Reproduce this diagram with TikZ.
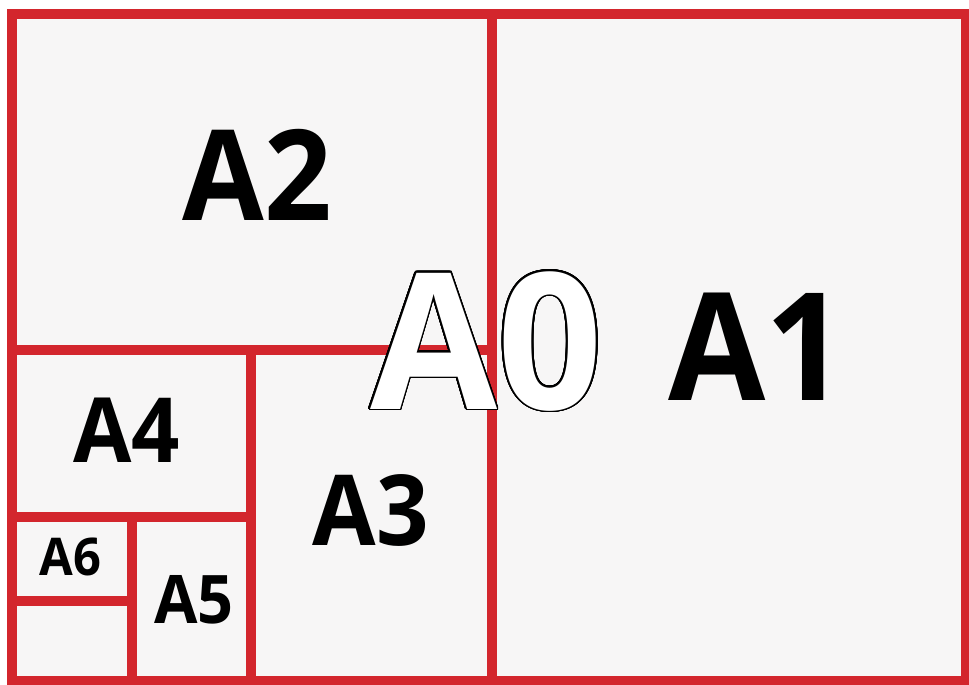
\documentclass[tikz,border=0pt]{standalone}
\usepackage{fontspec}
\setmainfont{Open Sans}
\usepackage{contour}
\contourlength{1.7bp}
\contournumber{32}
\definecolor{pred}{RGB}{211,38,45}
\definecolor{pbg}{RGB}{247,246,246}
\begin{document}
\begin{tikzpicture}[x=1bp,y=-1bp,
  redline/.style={draw=pred,line width=9.5bp},
  lbl/.style={inner sep=0pt,anchor=base,text=black,xscale=0.94},
  fsz/.style={font=\bfseries\fontsize{#1bp}{#1bp}\selectfont}]
\useasboundingbox (0,0) rectangle (969,685);
\fill[white] (0,0) rectangle (969,685);
% sheet corners and divisions
\coordinate (tl) at (12,14);
\coordinate (br) at (966,681);
\coordinate (v1t) at (492,14);
\coordinate (v1b) at (492,681);
\coordinate (h2l) at (12,350);
\coordinate (h2r) at (492,350);
\coordinate (v3t) at (251,350);
\coordinate (v3b) at (251,681);
\coordinate (h4l) at (12,517);
\coordinate (h4r) at (251,517);
\coordinate (v5t) at (132,517);
\coordinate (v5b) at (132,681);
\coordinate (h6l) at (12,601);
\coordinate (h6r) at (132,601);
\fill[pbg] (tl) rectangle (br);
\draw[redline] (tl) rectangle (br);
\draw[redline] (v1t) -- (v1b);
\draw[redline] (h2l) -- (h2r);
\draw[redline] (v3t) -- (v3b);
\draw[redline] (h4l) -- (h4r);
\draw[redline] (v5t) -- (v5b);
\draw[redline] (h6l) -- (h6r);
% labels
\node[lbl,fsz=126] (a2) at (257.5,220) {A2};
\node[lbl,fsz=150] (a1) at (757.5,400) {A1};
\node[lbl,fsz=90] (a4) at (126.5,462) {A4};
\node[lbl,fsz=98] (a3) at (371,545) {A3};
\node[lbl,fsz=52] (a6) at (70.5,575) {A6};
\node[lbl,fsz=67] (a5) at (194,623) {A5};
\node[inner sep=0pt,anchor=base,xscale=0.97,fsz=190] (a0) at (486.5,409) {\color{white}\contour{black}{A0}};
\end{tikzpicture}
\end{document}
